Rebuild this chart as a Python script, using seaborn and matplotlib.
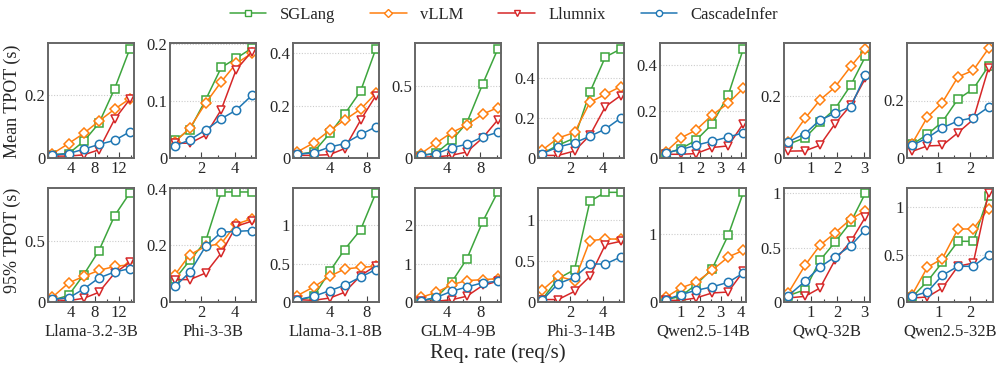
import numpy as np
import pandas as pd
import matplotlib
matplotlib.use("Agg")
import matplotlib.pyplot as plt
from matplotlib.ticker import FuncFormatter, FixedLocator
from matplotlib.lines import Line2D
import seaborn as sns

sns.set_theme(style="white")
plt.rcParams['font.family'] = ['Liberation Serif', 'DejaVu Serif']

MODELS = ["Llama-3.2-3B", "Phi-3-3B", "Llama-3.1-8B", "GLM-4-9B",
          "Phi-3-14B", "Qwen2.5-14B", "QwQ-32B", "Qwen2.5-32B"]
SYSTEMS = ["SGLang", "vLLM", "Llumnix", "CascadeInfer"]

RATES = [
    [1.0, 3.7, 6.2, 8.7, 11.3, 13.8],
    [0.4, 1.3, 2.25, 3.2, 4.1, 5.05],
    [0.45, 2.25, 4.0, 5.6, 7.35, 9.0],
    [0.9, 2.75, 4.6, 6.4, 8.3, 10.1],
    [0.25, 1.24, 2.25, 3.2, 4.15, 5.1],
    [0.28, 1.03, 1.78, 2.57, 3.37, 4.12],
    [0.16, 0.79, 1.35, 1.91, 2.51, 3.06],
    [0.18, 0.66, 1.13, 1.62, 2.1, 2.58],
]

MEAN_SGLANG = [
    [0.011, 0.014, 0.053, 0.11, 0.22, 0.346],
    [0.031, 0.05, 0.102, 0.159, 0.175, 0.193],
    [0.014, 0.023, 0.094, 0.167, 0.256, 0.417],
    [0.016, 0.035, 0.123, 0.244, 0.514, 0.756],
    [0.022, 0.064, 0.10, 0.33, 0.506, 0.546],
    [0.019, 0.04, 0.076, 0.145, 0.27, 0.47],
    [0.044, 0.065, 0.114, 0.157, 0.234, 0.326],
    [0.047, 0.082, 0.126, 0.205, 0.24, 0.32],
]
MEAN_VLLM = [
    [0.013, 0.046, 0.078, 0.117, 0.155, 0.188],
    [0.028, 0.053, 0.096, 0.134, 0.166, 0.184],
    [0.023, 0.058, 0.106, 0.145, 0.187, 0.247],
    [0.03, 0.105, 0.177, 0.228, 0.305, 0.35],
    [0.039, 0.10, 0.128, 0.279, 0.319, 0.358],
    [0.026, 0.086, 0.12, 0.184, 0.235, 0.30],
    [0.052, 0.127, 0.186, 0.227, 0.294, 0.35],
    [0.05, 0.142, 0.193, 0.282, 0.305, 0.381],
]
MEAN_LLUMNIX = [
    [0.006, 0.006, 0.01, 0.026, 0.123, 0.186],
    [0.026, 0.026, 0.04, 0.085, 0.155, 0.187],
    [0.01, 0.01, 0.013, 0.036, 0.145, 0.238],
    [0.007, 0.007, 0.019, 0.042, 0.14, 0.264],
    [0.013, 0.013, 0.035, 0.114, 0.257, 0.313],
    [0.016, 0.016, 0.019, 0.045, 0.052, 0.148],
    [0.022, 0.023, 0.041, 0.109, 0.17, 0.256],
    [0.023, 0.042, 0.044, 0.088, 0.134, 0.313],
]
MEAN_CASCADE = [
    [0.009, 0.014, 0.028, 0.043, 0.056, 0.083],
    [0.021, 0.032, 0.049, 0.069, 0.084, 0.11],
    [0.014, 0.02, 0.042, 0.055, 0.09, 0.119],
    [0.019, 0.03, 0.072, 0.095, 0.147, 0.178],
    [0.022, 0.055, 0.076, 0.109, 0.145, 0.2],
    [0.022, 0.036, 0.055, 0.072, 0.09, 0.108],
    [0.052, 0.078, 0.122, 0.143, 0.165, 0.267],
    [0.044, 0.07, 0.105, 0.129, 0.14, 0.177],
]

P95_SGLANG = [
    [0.014, 0.054, 0.223, 0.418, 0.704, 0.889],
    [0.081, 0.147, 0.214, 0.388, 0.388, 0.388],
    [0.017, 0.074, 0.40, 0.683, 0.943, 1.42],
    [0.017, 0.12, 0.52, 1.12, 2.09, 2.86],
    [0.03, 0.286, 0.396, 1.233, 1.343, 1.343],
    [0.034, 0.083, 0.254, 0.483, 0.976, 1.605],
    [0.058, 0.113, 0.382, 0.547, 0.734, 1.0],
    [0.053, 0.218, 0.419, 0.641, 0.641, 1.123],
]
P95_VLLM = [
    [0.038, 0.155, 0.209, 0.258, 0.29, 0.304],
    [0.096, 0.167, 0.196, 0.206, 0.275, 0.293],
    [0.083, 0.196, 0.335, 0.43, 0.452, 0.465],
    [0.12, 0.25, 0.45, 0.56, 0.58, 0.61],
    [0.143, 0.314, 0.261, 0.751, 0.771, 0.771],
    [0.068, 0.205, 0.288, 0.463, 0.659, 0.756],
    [0.083, 0.336, 0.52, 0.633, 0.761, 0.838],
    [0.077, 0.366, 0.458, 0.771, 0.771, 0.986],
]
P95_LLUMNIX = [
    [0.019, 0.011, 0.03, 0.079, 0.236, 0.323],
    [0.079, 0.079, 0.102, 0.173, 0.267, 0.285],
    [0.03, 0.022, 0.052, 0.126, 0.343, 0.474],
    [0.02, 0.02, 0.06, 0.15, 0.43, 0.54],
    [0.03, 0.03, 0.13, 0.314, 0.702, 0.743],
    [0.024, 0.024, 0.059, 0.132, 0.146, 0.449],
    [0.037, 0.052, 0.128, 0.382, 0.557, 0.78],
    [0.042, 0.053, 0.148, 0.377, 0.412, 1.151],
]
P95_CASCADE = [
    [0.024, 0.033, 0.106, 0.196, 0.245, 0.272],
    [0.055, 0.105, 0.196, 0.246, 0.249, 0.252],
    [0.03, 0.074, 0.148, 0.217, 0.326, 0.422],
    [0.035, 0.12, 0.28, 0.39, 0.5, 0.54],
    [0.02, 0.224, 0.302, 0.465, 0.465, 0.551],
    [0.034, 0.107, 0.171, 0.22, 0.288, 0.424],
    [0.058, 0.19, 0.321, 0.413, 0.517, 0.664],
    [0.06, 0.106, 0.282, 0.377, 0.377, 0.50],
]

X_MAJOR = [[4, 8, 12], [2, 4], [4, 8], [4, 8], [2, 4], [1, 2, 3, 4], [1, 2, 3], [1, 2]]
X_MINOR_STEP = [2, 1, 2, 2, 1, 0.5, 0.5, 0.5]
X_LIM = [(0.3, 14.5), (0.1, 5.3), (0.0, 9.35), (0.2, 10.5), (0.0, 5.3),
         (0.0, 4.25), (0.0, 3.23), (0.02, 2.72)]
MEAN_YTICKS = [[0, 0.2], [0, 0.1, 0.2], [0, 0.2, 0.4], [0, 0.5], [0, 0.2, 0.4],
               [0, 0.2, 0.4], [0, 0.2], [0, 0.2]]
MEAN_YMAX = [0.365, 0.202, 0.44, 0.80, 0.576, 0.494, 0.369, 0.40]
P95_YTICKS = [[0, 0.5], [0, 0.2, 0.4], [0, 0.5, 1], [0, 1, 2], [0, 0.5, 1],
              [0, 1], [0, 0.5, 1], [0, 0.5, 1]]
P95_YMAX = [0.93, 0.402, 1.487, 2.97, 1.396, 1.668, 1.046, 1.204]

COLORS = {"SGLang": "#3da53d", "vLLM": "#ff7f0e", "Llumnix": "#d62728", "CascadeInfer": "#1f77b4"}
MARKERS = {"SGLang": "s", "vLLM": "D", "Llumnix": "v", "CascadeInfer": "o"}
MSIZE = {"SGLang": 6, "vLLM": 5.5, "Llumnix": 6, "CascadeInfer": 6}

W, H = 996, 368
fig = plt.figure(figsize=(W / 100, H / 100), dpi=100)
lefts = [48, 170, 293, 415, 538, 660, 784, 907]
aw = 86

fmt = FuncFormatter(lambda v, p: "%g" % v)


def draw(ax, i, series, yticks, ymax, xlabel=None):
    for name, vals in zip(SYSTEMS, series):
        df = pd.DataFrame({"rate": RATES[i], "val": vals[i]})
        c = COLORS[name]
        sns.lineplot(data=df, x="rate", y="val", ax=ax, color=c, marker=MARKERS[name],
                     markersize=MSIZE[name], markerfacecolor="white", markeredgecolor=c,
                     markeredgewidth=1.1, linewidth=1.1, sort=False, estimator=None)
    ax.set_xlim(*X_LIM[i])
    ax.set_ylim(0, ymax)
    ax.set_xticks(X_MAJOR[i])
    step = X_MINOR_STEP[i]
    minors = np.arange(step, X_LIM[i][1], step)
    ax.xaxis.set_minor_locator(FixedLocator(minors))
    ax.set_yticks(yticks)
    ax.yaxis.set_major_formatter(fmt)
    ax.xaxis.set_major_formatter(fmt)
    ax.tick_params(axis="x", which="major", direction="in", length=4, width=0.8,
                   labelsize=12, pad=2, color="#444444", bottom=True)
    ax.tick_params(axis="x", which="minor", direction="in", length=2.5, width=0.8,
                   color="#444444", bottom=True)
    ax.tick_params(axis="y", which="major", length=0, labelsize=12, pad=2)
    for y in yticks:
        if y > 0:
            ax.axhline(y, color="#cccccc", linestyle=(0, (1, 1.5)), linewidth=0.8, zorder=0)
    for s in ax.spines.values():
        s.set_color("#666666")
        s.set_linewidth(1.4)
    ax.set_ylabel("")
    if xlabel:
        ax.set_xlabel(xlabel, fontsize=12, labelpad=2)
    else:
        ax.set_xlabel("")


for i in range(8):
    ax = fig.add_axes([lefts[i] / W, 1 - 158 / H, aw / W, 115 / H])
    draw(ax, i, [MEAN_SGLANG, MEAN_VLLM, MEAN_LLUMNIX, MEAN_CASCADE], MEAN_YTICKS[i], MEAN_YMAX[i])
    ax2 = fig.add_axes([lefts[i] / W, 1 - 302 / H, aw / W, 114 / H])
    draw(ax2, i, [P95_SGLANG, P95_VLLM, P95_LLUMNIX, P95_CASCADE], P95_YTICKS[i], P95_YMAX[i],
         xlabel=MODELS[i])

fig.text(12 / W, 1 - 101 / H, "Mean TPOT (s)", rotation=90, ha="center", va="center", fontsize=13)
fig.text(12 / W, 1 - 240 / H, "95% TPOT (s)", rotation=90, ha="center", va="center", fontsize=13)
fig.text(0.5, 1 - 353 / H, "Req. rate (req/s)", ha="center", va="center", fontsize=15)

handles = [Line2D([0], [0], color=COLORS[s], marker=MARKERS[s], markersize=4.5,
                  markerfacecolor="white", markeredgecolor=COLORS[s], linewidth=1.1)
           for s in SYSTEMS]
fig.legend(handles, SYSTEMS, loc="center", bbox_to_anchor=(504 / W, 1 - 15 / H), ncol=4,
           frameon=False, fontsize=12, handlelength=2.2, columnspacing=2.1, handletextpad=0.8)

fig.savefig("out.png", dpi=100)
